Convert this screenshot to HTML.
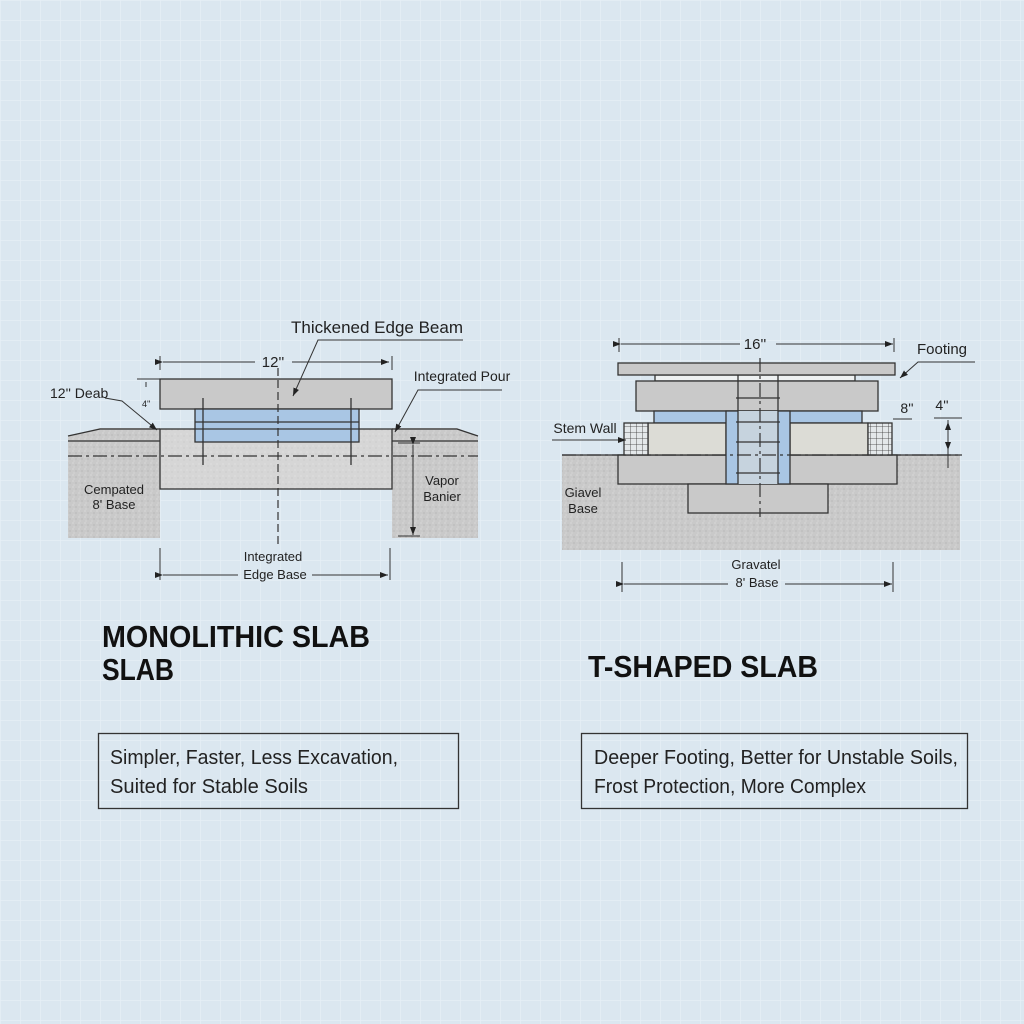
<!DOCTYPE html>
<html><head><meta charset="utf-8"><style>
html,body{margin:0;padding:0;background:#dbe7f0;}
svg{display:block;}
text{font-family:"Liberation Sans",sans-serif;fill:#222;}
</style></head><body>
<svg width="1024" height="1024" viewBox="0 0 1024 1024" xmlns="http://www.w3.org/2000/svg">
<defs>
<pattern id="grid" width="20" height="20" patternUnits="userSpaceOnUse">
<path d="M0 0H20M0 0V20" stroke="#e6eff6" stroke-width="1.5" fill="none"/>
</pattern>
<pattern id="spk" width="6" height="6" patternUnits="userSpaceOnUse">
<rect width="6" height="6" fill="#c9c9c9"/>
<circle cx="1" cy="1" r="0.6" fill="#e2e2e2"/><circle cx="4" cy="3" r="0.6" fill="#adadad"/><circle cx="2" cy="5" r="0.5" fill="#e6e6e6"/>
</pattern>
<pattern id="spk2" width="6" height="6" patternUnits="userSpaceOnUse">
<rect width="6" height="6" fill="#d6d6d6"/>
<circle cx="1" cy="2" r="0.5" fill="#ececec"/><circle cx="4" cy="4" r="0.5" fill="#bdbdbd"/>
</pattern>
<pattern id="mesh" width="6" height="6" patternUnits="userSpaceOnUse">
<rect width="6" height="6" fill="#e4e8ea"/><path d="M0 0H6M0 0V6" stroke="#333" stroke-width="0.8"/>
</pattern>
<marker id="ar" markerWidth="8" markerHeight="6" refX="8" refY="3" orient="auto" markerUnits="userSpaceOnUse"><path d="M0 0L8 3L0 6Z" fill="#222"/></marker>
</defs>
<rect width="1024" height="1024" fill="#dbe7f0"/>
<rect width="1024" height="1024" fill="url(#grid)"/>

<!-- LEFT DIAGRAM -->
<g stroke="#333" stroke-width="1.3">
<path d="M68 436 L100 428 L160 428 L160 538 L68 538Z" fill="url(#spk)" stroke="none"/>
<path d="M392 428 L457 428 L478 436 L478 538 L392 538Z" fill="url(#spk)" stroke="none"/>
<path d="M68 436 L100 429 L160 429 M392 429 L457 429 L478 436" fill="none"/>
<path d="M68 441 H160 M392 441 H478" fill="none"/>
<rect x="160" y="429" width="232" height="60" fill="url(#spk2)"/>
<rect x="160" y="379" width="232" height="30" fill="#c9c9c9"/>
<rect x="195" y="409" width="164" height="33" fill="#a9c6e4"/>
<path d="M195 422H359M195 429H359" fill="none"/>
<path d="M203 398V465M351 398V465" fill="none"/>
</g>
<path d="M68 456H478" stroke="#333" stroke-width="1.2" stroke-dasharray="14 4 3 4"/>
<path d="M278 368V545" stroke="#333" stroke-width="1.2" stroke-dasharray="8 4"/>
<g stroke="#333" stroke-width="1" fill="none">
<path d="M160 356V370M392 356V370M160 548V580M390 548V580"/>
<path d="M163 362H255" marker-start="url(#ar)"/><path d="M292 362H389" marker-end="url(#ar)"/>
<path d="M163 575H238" marker-start="url(#ar)"/><path d="M312 575H388" marker-end="url(#ar)"/>
<path d="M413 445V535" marker-start="url(#ar)" marker-end="url(#ar)"/>
<path d="M398 443H420M398 536H420"/>
<path d="M137 379H160M146 387V382"/>
<path d="M463 340H318L293 396" marker-end="url(#ar)"/>
<path d="M105 398L122 401L157 430" marker-end="url(#ar)"/>
<path d="M502 390H418L395 432" marker-end="url(#ar)"/>
</g>
<text x="377" y="333" font-size="17" text-anchor="middle">Thickened Edge Beam</text>
<text x="273" y="367" font-size="15" text-anchor="middle">12''</text>
<text x="50" y="398" font-size="14">12'' Deab</text>
<text x="142" y="407" font-size="9">4''</text>
<text x="462" y="381" font-size="14" text-anchor="middle">Integrated Pour</text>
<text x="114" y="494" font-size="13" text-anchor="middle">Cempated</text>
<text x="114" y="509" font-size="13" text-anchor="middle">8' Base</text>
<text x="442" y="485" font-size="13" text-anchor="middle">Vapor</text>
<text x="442" y="501" font-size="13" text-anchor="middle">Banier</text>
<text x="273" y="561" font-size="13" text-anchor="middle">Integrated</text>
<text x="275" y="579" font-size="13" text-anchor="middle">Edge Base</text>

<!-- RIGHT DIAGRAM -->
<g stroke="#333" stroke-width="1.3">
<rect x="562" y="455" width="398" height="95" fill="url(#spk)" stroke="none"/>
<path d="M562 455H962" fill="none"/>
<rect x="618" y="455" width="279" height="29" fill="#c9c9c9"/>
<rect x="688" y="484" width="140" height="29" fill="#c9c9c9"/>
<rect x="655" y="375" width="200" height="6" fill="#eef1f2"/>
<rect x="618" y="363" width="277" height="12" fill="#c9c9c9"/>
<rect x="636" y="381" width="242" height="30" fill="#c9c9c9"/>
<rect x="654" y="411" width="208" height="12" fill="#a9c6e4"/>
<rect x="648" y="423" width="78" height="32" fill="#dcdcd6"/>
<rect x="790" y="423" width="78" height="32" fill="#dcdcd6"/>
<rect x="624" y="423" width="24" height="32" fill="url(#mesh)"/>
<rect x="868" y="423" width="24" height="32" fill="url(#mesh)"/>
<rect x="726" y="411" width="64" height="73" fill="#a9c6e4"/>
<rect x="738" y="411" width="40" height="73" fill="#c6d3de" stroke="none"/>
<path d="M738 375V484M778 375V484M736 398H780M736 422H780M736 442H780M736 473H780" fill="none"/>
</g>
<path d="M562 455H962" stroke="#333" stroke-width="1.2" stroke-dasharray="14 4 3 4"/>
<path d="M760 358V517" stroke="#333" stroke-width="1.2" stroke-dasharray="14 4 3 4"/>
<g stroke="#333" stroke-width="1" fill="none">
<path d="M619 338V352M894 338V352M622 562V592M893 562V592"/>
<path d="M621 344H740" marker-start="url(#ar)"/><path d="M776 344H893" marker-end="url(#ar)"/>
<path d="M624 584H728" marker-start="url(#ar)"/><path d="M785 584H892" marker-end="url(#ar)"/>
<path d="M975 362H918L900 378" marker-end="url(#ar)"/>
<path d="M893 419H912"/>
<path d="M934 418H962M948 420V468" /><path d="M948 430V422" marker-end="url(#ar)"/><path d="M948 440V450" marker-end="url(#ar)"/>
<path d="M552 440H626" marker-end="url(#ar)"/>
</g>
<text x="755" y="349" font-size="15" text-anchor="middle">16''</text>
<text x="942" y="354" font-size="15" text-anchor="middle">Footing</text>
<text x="907" y="413" font-size="14" text-anchor="middle">8''</text>
<text x="942" y="410" font-size="14" text-anchor="middle">4''</text>
<text x="585" y="433" font-size="14" text-anchor="middle">Stem Wall</text>
<text x="583" y="497" font-size="13" text-anchor="middle">Giavel</text>
<text x="583" y="513" font-size="13" text-anchor="middle">Base</text>
<text x="756" y="569" font-size="13" text-anchor="middle">Gravatel</text>
<text x="757" y="587" font-size="13" text-anchor="middle">8' Base</text>

<!-- TITLES -->
<text x="102" y="647" font-size="31" font-weight="bold" textLength="268" lengthAdjust="spacingAndGlyphs" style="fill:#111">MONOLITHIC SLAB</text>
<text x="102" y="680" font-size="31" font-weight="bold" textLength="72" lengthAdjust="spacingAndGlyphs" style="fill:#111">SLAB</text>
<text x="588" y="677" font-size="31" font-weight="bold" textLength="230" lengthAdjust="spacingAndGlyphs" style="fill:#111">T-SHAPED SLAB</text>

<!-- BOXES -->
<rect x="98.5" y="733.5" width="360" height="75" fill="none" stroke="#333" stroke-width="1.3"/>
<text x="110" y="764" font-size="20" textLength="288" lengthAdjust="spacingAndGlyphs">Simpler, Faster, Less Excavation,</text>
<text x="110" y="793" font-size="20" textLength="198" lengthAdjust="spacingAndGlyphs">Suited for Stable Soils</text>
<rect x="581.5" y="733.5" width="386" height="75" fill="none" stroke="#333" stroke-width="1.3"/>
<text x="594" y="764" font-size="20" textLength="364" lengthAdjust="spacingAndGlyphs">Deeper Footing, Better for Unstable Soils,</text>
<text x="594" y="793" font-size="20" textLength="272" lengthAdjust="spacingAndGlyphs">Frost Protection, More Complex</text>
</svg>
</body></html>
